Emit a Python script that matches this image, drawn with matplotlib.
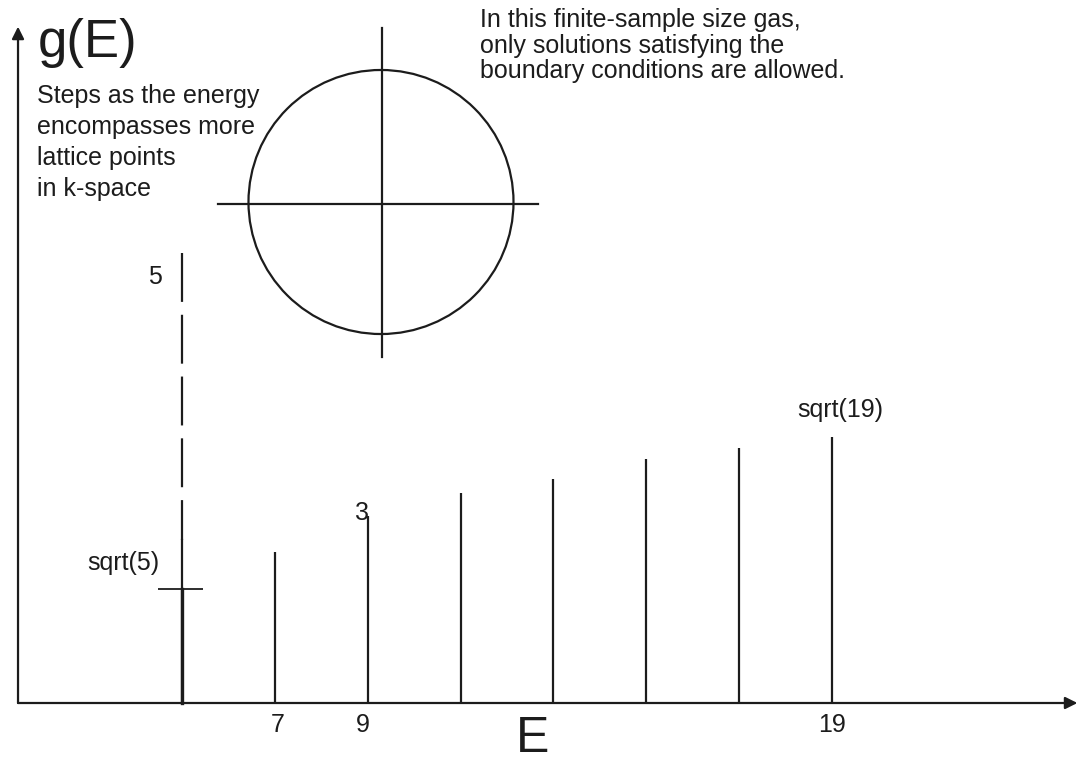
import matplotlib.pyplot as plt
from matplotlib.patches import Ellipse

# g(E) steps (heights in g units, 3 at E=9)
energies = [7, 9, 11, 13, 15, 17, 19]
g_heights = [2.42, 3.0, 3.37, 3.60, 3.92, 4.09, 4.27]

# the first level at E=5: dashed up to "5", solid below, tick at sqrt(5)
e_first = 5
g_first_top = 7.22
g_first_solid = 2.62
g_first_tick = 1.83

tick_labels = ["7", "9", "19"]
tick_energies = [7, 9, 19]

left_note = ["Steps as the energy", "encompasses more", "lattice points", "in k-space"]
right_note = ["In this finite-sample size gas,",
              "only solutions satisfying the",
              "boundary conditions are allowed."]

ink = "#1c1c1c"
plt.rcParams['font.family'] = ['Liberation Sans', 'DejaVu Sans']

fig = plt.figure(figsize=(10.79, 7.62), dpi=100)
ax = fig.add_axes([0, 0, 1, 1])
ax.set_xlim(1.069, 24.328)
ax.set_ylim(-0.947, 11.284)
ax.axis('off')

# axes with arrow heads
arrow = dict(arrowstyle='-|>', mutation_scale=18, lw=1.6, color=ink,
             shrinkA=0, shrinkB=0)
ax.annotate('', xy=(0.9985, 0), xycoords=('axes fraction', 'data'),
            xytext=(0.0167, 0), textcoords=('axes fraction', 'data'),
            arrowprops=arrow)
ax.annotate('', xy=(0.0167, 0.965), xycoords='axes fraction',
            xytext=(0.0167, 0), textcoords=('axes fraction', 'data'),
            arrowprops=arrow)

# steps
ax.vlines(energies, 0, g_heights, color=ink, lw=1.6)
ax.plot([e_first, e_first], [g_first_top, g_first_solid], color=ink, lw=1.6,
        dashes=(22, 5.8))
ax.plot([e_first, e_first], [g_first_solid, 0], color=ink, lw=1.6)
ax.plot([e_first, e_first], [g_first_tick, 0], color=ink, lw=2.4)
ax.hlines(g_first_tick, e_first - 0.52, e_first + 0.45, color=ink, lw=1.3)

# k-space circle with crosshair
ax.add_patch(Ellipse((0.3531, 0.7349), 0.2456, 0.3465, transform=ax.transAxes,
                     fill=False, lw=1.6, color=ink))
ax.plot([0.2020, 0.4986], [0.7323, 0.7323], transform=ax.transAxes, color=ink, lw=1.6)
ax.plot([0.354, 0.354], [0.9633, 0.5315], transform=ax.transAxes, color=ink, lw=1.6)

# labels
ax.text(0.0352, 0.9436, "g(E)", fontsize=38, color=ink, ha='left', va='center',
        transform=ax.transAxes)
ax.text(0.494, 0.0, "E", fontsize=36, color=ink, ha='center', va='bottom',
        transform=ax.transAxes)

for i, line in enumerate(left_note):
    ax.text(0.0343, 0.8648 - i * 0.0407, line, fontsize=18, color=ink,
            ha='left', va='baseline', transform=ax.transAxes)
for i, line in enumerate(right_note):
    ax.text(0.4449, 0.9646 - i * 0.0335, line, fontsize=18, color=ink,
            ha='left', va='baseline', transform=ax.transAxes)

def label(txt, x, y, dx, dy):
    ax.annotate(txt, xy=(x, y), xytext=(dx, dy), textcoords='offset pixels',
                fontsize=18, color=ink, ha='center', va='center')

for txt, e in zip(tick_labels, tick_energies):
    label(txt, e, 0, 3 if e == 7 else (-5 if e == 9 else 0), -22)

label("5", e_first, g_first_top, -27, -24)
label("sqrt(5)", e_first, g_first_tick, -59, 26)
label("3", energies[1], g_heights[1], -6, 3)
label("sqrt(19)", energies[-1], g_heights[-1], 8, 27)

fig.savefig("out.png", dpi=100)
